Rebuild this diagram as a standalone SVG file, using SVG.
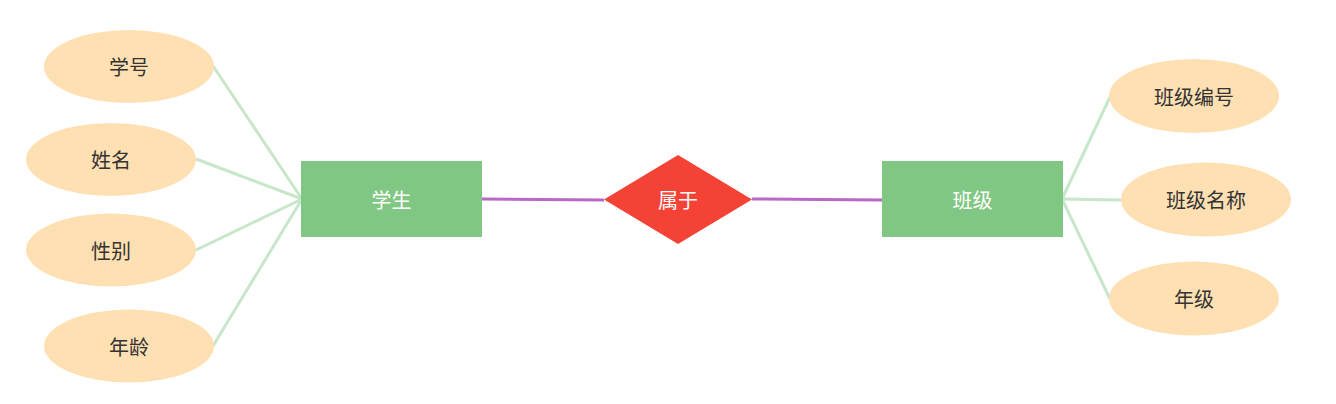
<svg xmlns="http://www.w3.org/2000/svg" width="1336" height="404" viewBox="0 0 1336 404">
<style>
.attr{fill:#FFE0B2;}
.ent{fill:#81C784;}
.rel{fill:#F44336;}
.t{font-family:"Noto Sans CJK SC","Liberation Sans",sans-serif;font-size:20px;text-anchor:middle;dominant-baseline:central;}
.dark{fill:#333333;}
.light{fill:#ffffff;}
.g{stroke:#C8E6C9;stroke-width:3;fill:none;}
.p{stroke:#BA68C8;stroke-width:3;fill:none;}
</style>
<rect width="1336" height="404" fill="#ffffff"/>
<g id="connectors">
<line class="g" x1="213" y1="66" x2="302" y2="199"/>
<line class="g" x1="196" y1="159" x2="302" y2="199"/>
<line class="g" x1="196" y1="250" x2="302" y2="199"/>
<line class="g" x1="213" y1="346" x2="302" y2="199"/>
<line class="g" x1="1062" y1="199" x2="1110" y2="97"/>
<line class="g" x1="1062" y1="199" x2="1121" y2="200"/>
<line class="g" x1="1062" y1="199" x2="1110" y2="299"/>
<line class="p" x1="482" y1="199" x2="604" y2="200"/>
<line class="p" x1="752" y1="199" x2="882" y2="200"/>
</g>
<g id="xuehao"><ellipse class="attr" cx="129" cy="66.5" rx="85" ry="36.5"/><text class="t dark" x="129" y="66.5">学号</text></g>
<g id="xingming"><ellipse class="attr" cx="111" cy="159.5" rx="85" ry="36.5"/><text class="t dark" x="111" y="159.5">姓名</text></g>
<g id="xingbie"><ellipse class="attr" cx="111" cy="250" rx="85" ry="36.5"/><text class="t dark" x="111" y="250">性别</text></g>
<g id="nianling"><ellipse class="attr" cx="129" cy="346" rx="85" ry="36.5"/><text class="t dark" x="129" y="346">年龄</text></g>
<g id="student"><rect class="ent" x="301" y="161" width="181" height="76"/><text class="t light" x="391.5" y="199">学生</text></g>
<g id="belongs"><polygon class="rel" points="678,155 752,199.5 678,244 604,199.5"/><text class="t light" x="678" y="199.5">属于</text></g>
<g id="class"><rect class="ent" x="882" y="161" width="181" height="76"/><text class="t light" x="972.5" y="199">班级</text></g>
<g id="classno"><ellipse class="attr" cx="1194" cy="96" rx="85" ry="37"/><text class="t dark" x="1194" y="96">班级编号</text></g>
<g id="classname"><ellipse class="attr" cx="1206" cy="199.5" rx="85" ry="37"/><text class="t dark" x="1206" y="199.5">班级名称</text></g>
<g id="grade"><ellipse class="attr" cx="1194" cy="298.5" rx="85" ry="37"/><text class="t dark" x="1194" y="298.5">年级</text></g>
</svg>
